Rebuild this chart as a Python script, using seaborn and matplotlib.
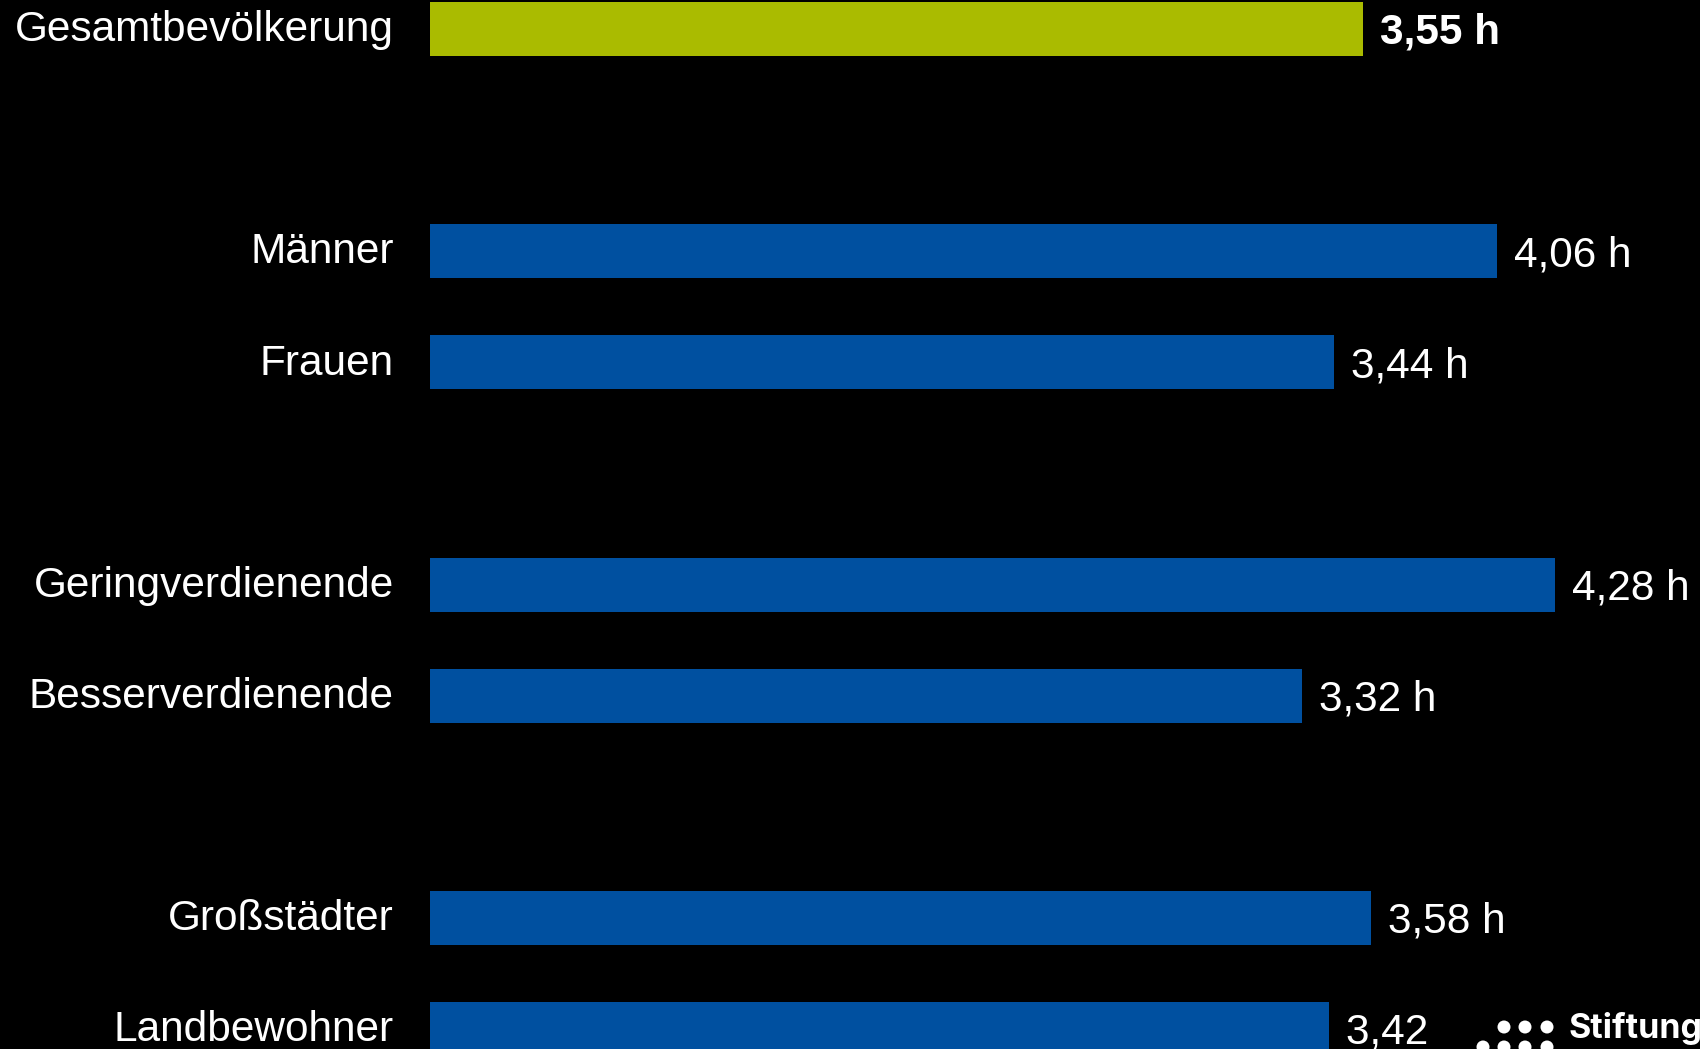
import matplotlib
matplotlib.use("Agg")
import matplotlib.pyplot as plt
from matplotlib.patches import Rectangle, Circle
from matplotlib.transforms import IdentityTransform
import seaborn as sns
import pandas as pd

categories = ["Gesamtbevölkerung", "Männer", "Frauen", "Geringverdienende",
              "Besserverdienende", "Großstädter", "Landbewohner"]
values = [3.55, 4.06, 3.44, 4.28, 3.32, 3.58, 3.42]
groups = [0, 1, 1, 2, 2, 3, 3]

GREEN = "#aabb00"
BLUE = "#0050a0"

# layout positions: one empty slot between groups
positions = []
slot = 0
prev = None
for g in groups:
    if prev is not None:
        slot += 1 if g == prev else 2
    positions.append(slot)
    prev = g

df = pd.DataFrame({"cat": categories, "val": values, "pos": positions})
palette = {c: (GREEN if i == 0 else BLUE) for i, c in enumerate(categories)}

sns.set_theme(style="white")
plt.rcParams["font.family"] = ["Liberation Sans", "DejaVu Sans"]

W, H = 1700, 1049
fig = plt.figure(figsize=(W / 100, H / 100), dpi=100, facecolor="black")
ax = fig.add_axes([430 / W, 0, 1270 / W, 1])
ax.set_facecolor("black")

sns.barplot(data=df, x="val", y="pos", hue="cat", palette=palette, orient="h",
            native_scale=True, width=0.486, legend=False, ax=ax,
            saturation=1, dodge=False, linewidth=0, edgecolor="none")

px_per_unit = 262.8
ax.set_xlim(0, 1270 / px_per_unit)
ax.set_ylim(9.18, -0.262)

ax.set_yticks([])
ax.set_xticks([])
ax.set_xlabel("")
ax.set_ylabel("")
for s in ax.spines.values():
    s.set_visible(False)

for c, p in zip(categories, positions):
    ax.text(-36 / px_per_unit, p + 0.01, c, color="white", fontsize=30.5,
            va="center", ha="right", clip_on=False)

for i, (v, p) in enumerate(zip(values, positions)):
    lab = f"{v:.2f}".replace(".", ",") + " h"
    ax.text(v + 17 / px_per_unit, p + 0.035, lab, color="white", fontsize=30.5,
            fontweight="bold" if i == 0 else "normal", va="center", ha="left")

# logo (partially cut off at bottom right) - drawn in pixel coordinates
ident = IdentityTransform()
fig.patches.append(Rectangle((1435, 0), W - 1435, 50, transform=ident,
                             facecolor="black", edgecolor="none", zorder=5))
for (x, y) in [(1504, 1027), (1525, 1027), (1547, 1027),
               (1483, 1047), (1504, 1047), (1525, 1047), (1547, 1047)]:
    fig.patches.append(Circle((x, H - y), 6.5, transform=ident,
                              facecolor="white", edgecolor="none", zorder=6))
fig.text(1569 / W, 1 - 1038 / H, "Stiftung", color="white", fontsize=24.5,
         fontweight="bold", family=["Inter", "DejaVu Sans"], ha="left",
         va="baseline", zorder=7)

fig.savefig("out.png", dpi=100, facecolor="black")
